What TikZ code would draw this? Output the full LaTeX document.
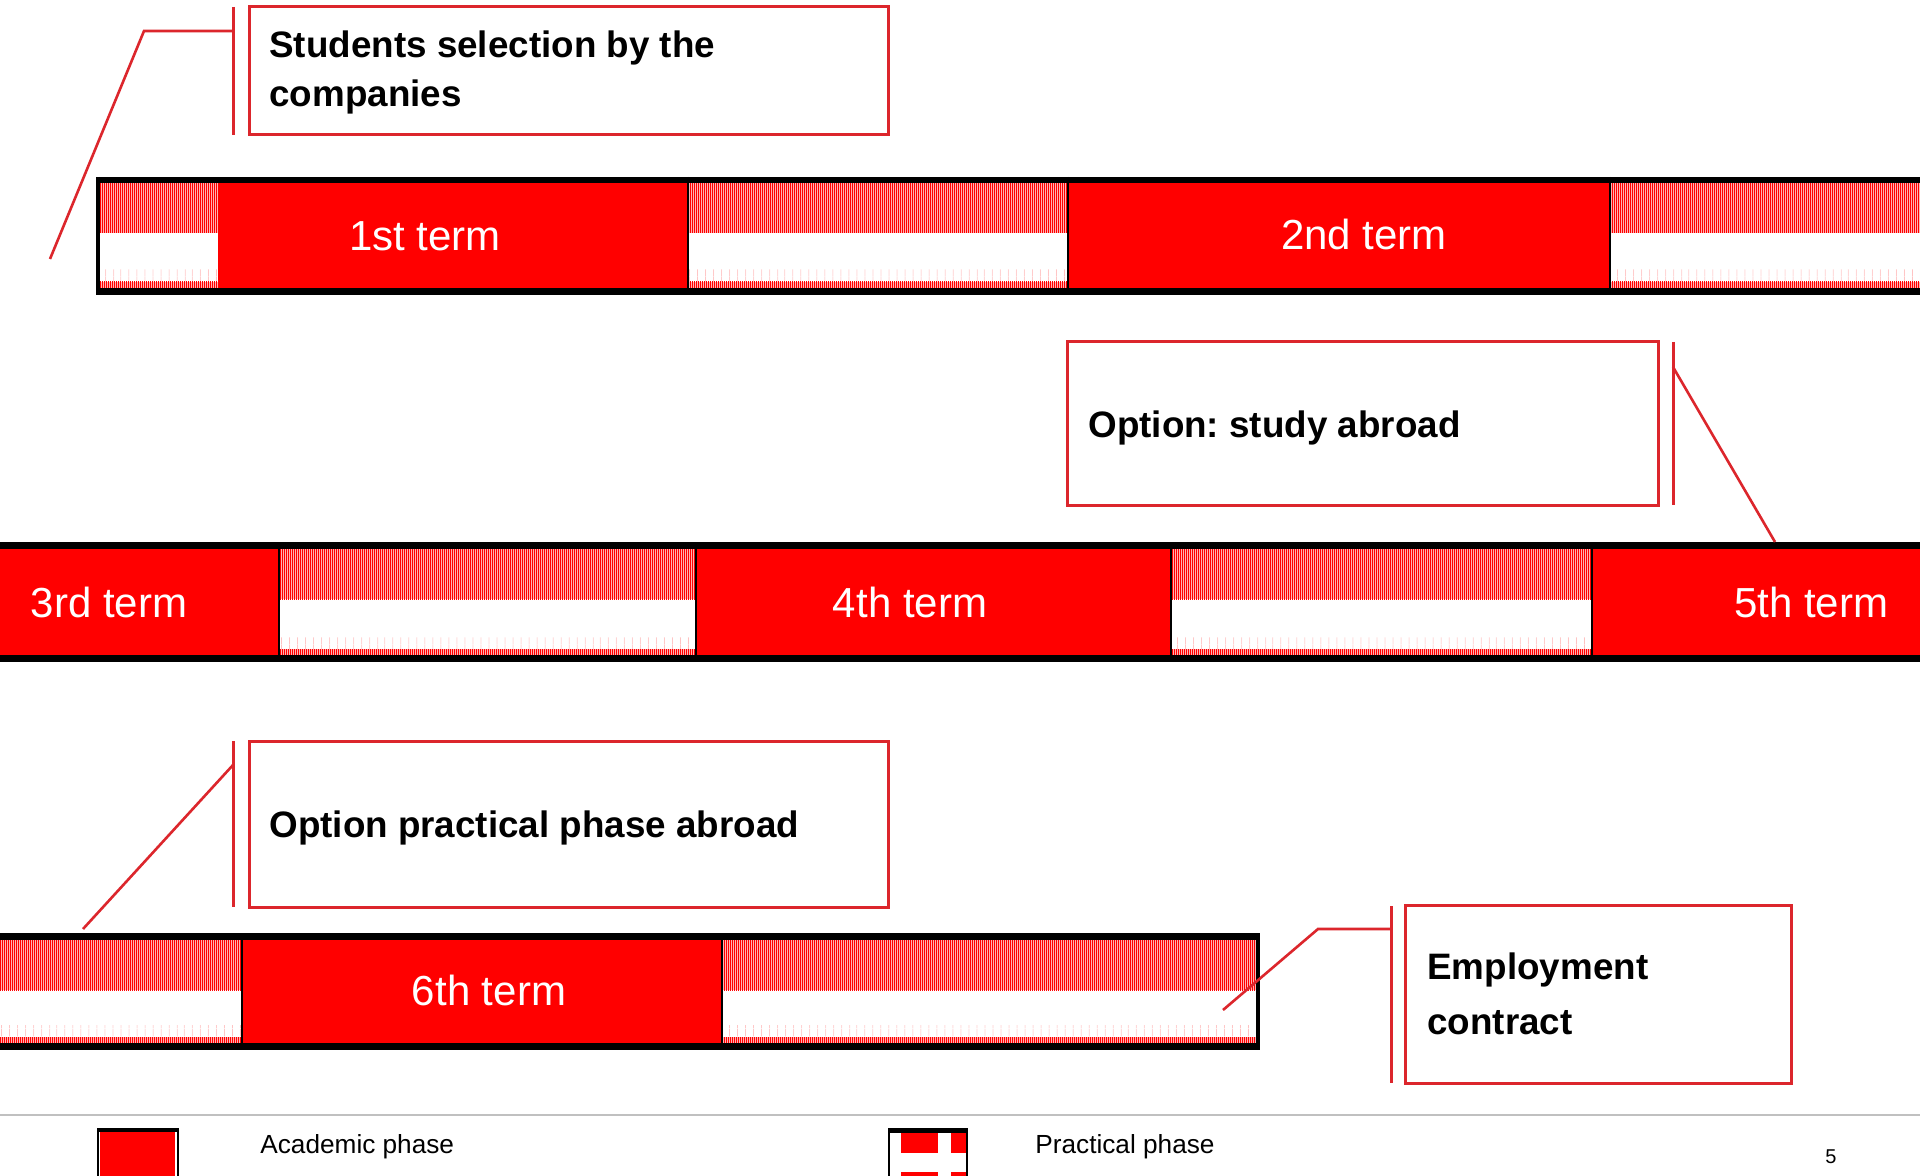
\documentclass[tikz,border=0pt]{standalone}
\usepackage{fontspec}
\setmainfont{Liberation Sans}
\usetikzlibrary{patterns.meta}
\definecolor{callred}{RGB}{220,38,44}
\definecolor{acred}{RGB}{255,0,0}
\definecolor{footgray}{RGB}{192,192,192}
\frenchspacing
\tikzset{
 callbox/.style={draw=callred, line width=1.5pt, fill=white, inner sep=0pt, outer sep=0pt, anchor=north west},
 callbar/.style={draw=callred, line width=1.5pt},
 leader/.style={draw=callred, line width=1.3pt},
 calltext/.style={font=\bfseries\fontsize{18.4}{22}\selectfont, anchor=base west, inner sep=0pt},
 termtext/.style={font=\fontsize{21}{25}\selectfont, text=white, inner sep=0pt},
 legtext/.style={font=\fontsize{13.1}{15}\selectfont, anchor=base west, inner sep=0pt},
 acad/.style={fill=acred},
 stripes/.style={pattern={Lines[angle=90,distance=1pt,line width=0.5pt]}, pattern color=acred},
 tickpat/.style={pattern={Lines[angle=90,distance=4pt,line width=0.4pt]}, pattern color=acred!25},
 pinkbg/.style={fill=acred!30},
 sepline/.style={draw=black, line width=1.2pt},
}
\newcommand{\prseg}[4]{%
  \fill[white] (#1,#3) rectangle (#2,#4);
  \fill[pinkbg] (#1,#3) rectangle (#2,#3+50);
  \fill[stripes] (#1,#3) rectangle (#2,#3+50);
  \fill[tickpat] (#1,#4-18) rectangle (#2,#4-6);
  \fill[pinkbg] (#1,#4-6) rectangle (#2,#4);
  \fill[stripes] (#1,#4-6) rectangle (#2,#4);
}
\begin{document}
\begin{tikzpicture}[x=0.5pt,y=-0.5pt]
\useasboundingbox (0,0) rectangle (1920,1176);
\fill[white] (0,0) rectangle (1920,1176);

% ---------- Row 1 ----------
\prseg{98}{218}{183}{288}
\fill[acad] (218,183) rectangle (688,288);
\prseg{688}{1068}{183}{288}
\fill[acad] (1068,183) rectangle (1610,288);
\prseg{1610}{1920}{183}{288}
\fill[black] (98,177) rectangle (1920,183);
\fill[black] (98,288) rectangle (1920,295);
\draw[sepline, line width=1.6pt] (98,177) -- (98,295);
\foreach \xx in {688,1068,1610} \draw[sepline] (\xx,177) -- (\xx,295);
\node[termtext] (t1) at (425,236) {1st term};
\node[termtext] (t2) at (1364,234) {2nd term};

% ---------- Row 2 ----------
\fill[acad] (0,549) rectangle (279,655);
\prseg{279}{696}{549}{655}
\fill[acad] (696,549) rectangle (1171,655);
\prseg{1171}{1592}{549}{655}
\fill[acad] (1592,549) rectangle (1920,655);
\fill[black] (0,542) rectangle (1920,549);
\fill[black] (0,655) rectangle (1920,662);
\foreach \xx in {279,696,1171,1592} \draw[sepline] (\xx,542) -- (\xx,662);
\node[termtext] (t3) at (109,602) {3rd term};
\node[termtext] (t4) at (910,602) {4th term};
\node[termtext] (t5) at (1811,602) {5th term};

% ---------- Row 3 ----------
\prseg{0}{242}{940}{1043}
\fill[acad] (242,940) rectangle (722,1043);
\prseg{722}{1258}{940}{1043}
\fill[black] (0,933) rectangle (1258,940);
\fill[black] (0,1043) rectangle (1258,1050);
\foreach \xx in {242,722} \draw[sepline] (\xx,933) -- (\xx,1050);
\draw[sepline, line width=1.6pt] (1258,933) -- (1258,1050);
\node[termtext] (t6) at (489,990) {6th term};

% ---------- Callouts ----------
\node[callbox, minimum width=319.5pt, minimum height=64pt] (box1) at (249,7) {};
\node[calltext] (c1a) at (269,58) {Students selection by the};
\node[calltext] (c1b) at (269,107) {companies};
\draw[callbar] (233,7) -- (233,135);
\coordinate (l1a) at (233,31);
\coordinate (l1b) at (144,31);
\coordinate (l1c) at (50,259);
\draw[leader] (l1a) -- (l1b) -- (l1c);

\node[callbox, minimum width=295.5pt, minimum height=81.5pt] (box2) at (1067,342) {};
\node[calltext] (c2) at (1088,437) {Option: study abroad};
\draw[callbar] (1673,342) -- (1673,505);
\coordinate (l2a) at (1673,367);
\coordinate (l2b) at (1775,542);
\draw[leader] (l2a) -- (l2b);

\node[callbox, minimum width=319.5pt, minimum height=83pt] (box3) at (249,741) {};
\node[calltext] (c3) at (269,837) {Option practical phase abroad};
\draw[callbar] (233,741) -- (233,907);
\coordinate (l3a) at (233,765);
\coordinate (l3b) at (83,929);
\draw[leader] (l3a) -- (l3b);

\node[callbox, minimum width=193pt, minimum height=89pt] (box4) at (1405,905) {};
\node[calltext] (c4a) at (1427,979) {Employment};
\node[calltext] (c4b) at (1427,1034) {contract};
\draw[callbar] (1391,906) -- (1391,1083);
\coordinate (l4a) at (1391,929);
\coordinate (l4b) at (1318,929);
\coordinate (l4c) at (1223,1010);
\draw[leader] (l4a) -- (l4b) -- (l4c);

% ---------- Footer / legend ----------
\draw[footgray, line width=1pt] (0,1115) -- (1920,1115);
\fill[acad] (100,1132) rectangle (175,1176);
\draw[black, line width=1pt] (98,1176) -- (98,1129) -- (178,1129) -- (178,1176);
\fill[black] (98,1129) rectangle (178,1132);
\node[legtext] (lg1) at (260,1153) {Academic phase};

\fill[white] (889,1129) rectangle (967,1176);
\fill[acad] (901,1133) rectangle (938,1153);
\fill[acad] (951,1133) rectangle (966,1153);
\fill[acad] (901,1172) rectangle (938,1176);
\fill[acad] (951,1172) rectangle (966,1176);
\draw[black, line width=1pt] (889,1176) -- (889,1129) -- (967,1129) -- (967,1176);
\fill[black] (889,1129) rectangle (967,1133);
\node[legtext] (lg2) at (1035,1153) {Practical phase};

\node[legtext, font=\fontsize{10}{12}\selectfont] (pg) at (1825,1163) {5};
\end{tikzpicture}
\end{document}
